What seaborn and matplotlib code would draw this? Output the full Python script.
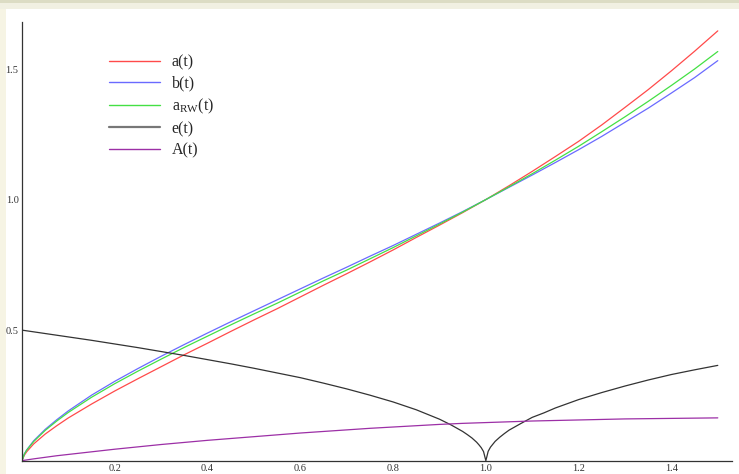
import pandas as pd
import seaborn as sns
import matplotlib.pyplot as plt
from matplotlib.ticker import MultipleLocator
from matplotlib.patches import Rectangle

# time grid shared by a, b, a_RW and A
t = [0, 0.005, 0.01, 0.025, 0.05, 0.075, 0.1, 0.15, 0.2, 0.25, 0.3, 0.35, 0.4,
     0.45, 0.5, 0.55, 0.6, 0.65, 0.7, 0.75, 0.8, 0.85, 0.9, 0.95, 1.0, 1.05,
     1.1, 1.15, 1.2, 1.25, 1.3, 1.35, 1.4, 1.45, 1.5]

a_t = [0, 0.021, 0.034, 0.064, 0.102, 0.134, 0.164, 0.217, 0.267, 0.314, 0.360,
       0.406, 0.450, 0.495, 0.539, 0.582, 0.627, 0.672, 0.716, 0.761, 0.807,
       0.855, 0.902, 0.950, 1.0, 1.053, 1.108, 1.165, 1.223, 1.286, 1.353,
       1.421, 1.493, 1.568, 1.646]

b_t = [0, 0.026, 0.041, 0.076, 0.120, 0.157, 0.191, 0.251, 0.304, 0.353, 0.400,
       0.445, 0.489, 0.532, 0.574, 0.616, 0.658, 0.700, 0.741, 0.783, 0.824,
       0.867, 0.910, 0.954, 1.0, 1.047, 1.094, 1.142, 1.191, 1.242, 1.296,
       1.350, 1.408, 1.467, 1.532]

a_rw = [0, 0.025, 0.040, 0.073, 0.116, 0.152, 0.185, 0.243, 0.295, 0.343, 0.389,
        0.434, 0.477, 0.520, 0.562, 0.603, 0.646, 0.689, 0.730, 0.773, 0.816,
        0.861, 0.906, 0.952, 1.0, 1.049, 1.099, 1.151, 1.204, 1.260, 1.317,
        1.376, 1.437, 1.500, 1.567]

A_t = [0, 0.0015, 0.003, 0.007, 0.013, 0.019, 0.024, 0.034, 0.044, 0.053, 0.062,
       0.070, 0.078, 0.085, 0.092, 0.099, 0.106, 0.112, 0.118, 0.124, 0.129,
       0.134, 0.139, 0.143, 0.146, 0.149, 0.152, 0.154, 0.156, 0.158, 0.160,
       0.161, 0.162, 0.163, 0.164]

# e(t) has a cusp at t = 1, so it gets its own finer grid there
t_e = [0, 0.05, 0.1, 0.15, 0.2, 0.25, 0.3, 0.35, 0.4, 0.45, 0.5, 0.55, 0.6,
       0.65, 0.7, 0.75, 0.8, 0.85, 0.875, 0.9, 0.925, 0.95, 0.96, 0.97, 0.98,
       0.985, 0.99, 0.995, 1.0, 1.005, 1.01, 1.015, 1.02, 1.03, 1.04, 1.05,
       1.075, 1.1, 1.125, 1.15, 1.2, 1.25, 1.3, 1.35, 1.4, 1.45, 1.5]
e_t = [0.5, 0.487, 0.474, 0.461, 0.447, 0.433, 0.418, 0.403, 0.387, 0.371,
       0.354, 0.336, 0.318, 0.297, 0.275, 0.251, 0.225, 0.195, 0.177, 0.159,
       0.137, 0.112, 0.100, 0.087, 0.071, 0.061, 0.050, 0.035, 0.0, 0.036,
       0.052, 0.063, 0.074, 0.090, 0.104, 0.117, 0.142, 0.166, 0.183, 0.202,
       0.234, 0.261, 0.286, 0.309, 0.330, 0.348, 0.365]

labels = ['a(t)', 'b(t)', r'a$_{\mathrm{RW}}$(t)', 'e(t)', 'A(t)']
colors = ['#ff4a4a', '#6a6aff', '#44e044', '#333333', '#9c2fa6']

x_ticks = [0.2, 0.4, 0.6, 0.8, 1.0, 1.2, 1.4]
x_ticklabels = ['0.2', '0.4', '0.6', '0.8', '1.0', '1.2', '1.4']
y_ticks = [0.5, 1.0, 1.5]
y_ticklabels = ['0.5', '1.0', '1.5']

frames = [
    pd.DataFrame({'t': t, 'value': a_t, 'curve': labels[0]}),
    pd.DataFrame({'t': t, 'value': b_t, 'curve': labels[1]}),
    pd.DataFrame({'t': t, 'value': a_rw, 'curve': labels[2]}),
    pd.DataFrame({'t': t_e, 'value': e_t, 'curve': labels[3]}),
    pd.DataFrame({'t': t, 'value': A_t, 'curve': labels[4]}),
]
df = pd.concat(frames, ignore_index=True)

sns.set_style("white")
plt.rcParams['font.family'] = ['Liberation Serif', 'DejaVu Serif']
plt.rcParams['mathtext.fontset'] = 'custom'
plt.rcParams['mathtext.rm'] = 'Liberation Serif'

fig = plt.figure(figsize=(7.39, 4.74), dpi=100)
fig.patch.set_facecolor('white')
# notebook-like beige border on the top and left
fig.patches.append(Rectangle((0, 0), 6 / 739, 1, transform=fig.transFigure,
                             facecolor='#f6f4e4', edgecolor='none', zorder=0))
fig.patches.append(Rectangle((0, 1 - 9 / 474), 1, 9 / 474, transform=fig.transFigure,
                             facecolor='#f1f0e2', edgecolor='none', zorder=0))
fig.patches.append(Rectangle((0, 1 - 3 / 474), 1, 3 / 474, transform=fig.transFigure,
                             facecolor='#dcdcc4', edgecolor='none', zorder=0))

ax = fig.add_axes([22 / 739, 13.3 / 474, 709.7 / 739, 438.7 / 474])
ax.set_facecolor('none')

sns.lineplot(data=df, x='t', y='value', hue='curve', hue_order=labels,
             palette=dict(zip(labels, colors)), estimator=None, sort=False,
             linewidth=0.9, ax=ax)

ax.set_xlim(0, 1.53)
ax.set_ylim(0, 1.68)
ax.set_xlabel('')
ax.set_ylabel('')

for side in ['top', 'right']:
    ax.spines[side].set_visible(False)
for side in ['left', 'bottom']:
    ax.spines[side].set_color('#333333')
    ax.spines[side].set_linewidth(0.9)

ax.set_xticks(x_ticks)
ax.set_xticklabels(x_ticklabels)
ax.set_yticks(y_ticks)
ax.set_yticklabels(y_ticklabels)
ax.xaxis.set_minor_locator(MultipleLocator(0.05))
ax.yaxis.set_minor_locator(MultipleLocator(0.1))
ax.tick_params(which='major', direction='in', length=4, width=0.7,
               colors='#333333', labelsize=7.5, pad=2.5)
ax.tick_params(which='minor', direction='in', length=2.5, width=0.6,
               colors='#333333')

handles, names = ax.get_legend_handles_labels()
leg = ax.legend(handles, names, loc='upper left', bbox_to_anchor=(0.122, 0.926),
                frameon=False, fontsize=11.5, handlelength=3.2, handletextpad=0.75,
                labelspacing=0.32, borderaxespad=0, borderpad=0)
for line in leg.get_lines():
    line.set_linewidth(1.0)
leg.get_lines()[3].set_linewidth(1.6)
leg.get_lines()[3].set_color('#777777')

fig.savefig('out.png', dpi=100)
plt.close(fig)
